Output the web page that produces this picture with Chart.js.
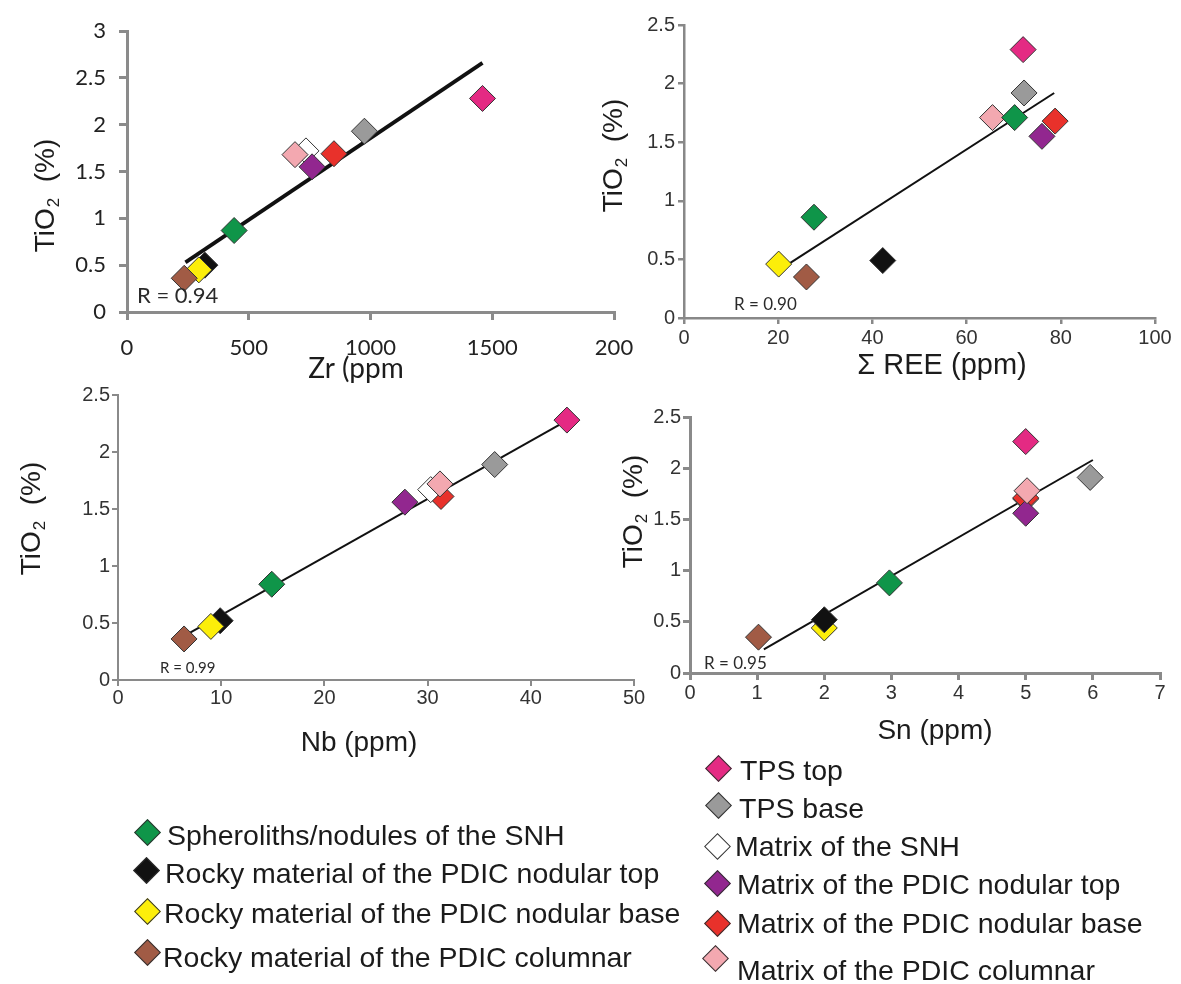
<!DOCTYPE html>
<html lang="en">
<head>
<meta charset="utf-8">
<title>TiO2 versus Zr, ΣREE, Nb and Sn</title>
<script src="https://cdn.jsdelivr.net/npm/chart.js@4.4.1/dist/chart.umd.min.js"></script>
<style>
  html, body { margin: 0; padding: 0; background: #fff; }
  #page { position: relative; width: 1181px; height: 984px; overflow: hidden; background: #fff; }
  #page canvas { position: absolute; left: 0; top: 0; }
  .key { position: absolute; white-space: nowrap; font-family: 'Liberation Sans', Arial, sans-serif;
         font-size: 28.5px; line-height: 32px; height: 32px; color: #1b1b1b; }
  .mark { position: absolute; width: 19px; height: 19px; box-sizing: border-box;
          border: 1px solid #333; transform: rotate(45deg); }
</style>
</head>
<body>
<div id="page">
  <canvas id="pZr" width="1181" height="984"></canvas>
  <canvas id="pRee" width="1181" height="984"></canvas>
  <canvas id="pNb" width="1181" height="984"></canvas>
  <canvas id="pSn" width="1181" height="984"></canvas>
</div>
<script>
// Sample groups (same order in every array below)
const groupNames = [
  'TPS top',
  'TPS base',
  'Matrix of the SNH',
  'Matrix of the PDIC nodular top',
  'Matrix of the PDIC nodular base',
  'Matrix of the PDIC columnar',
  'Spheroliths/nodules of the SNH',
  'Rocky material of the PDIC nodular top',
  'Rocky material of the PDIC nodular base',
  'Rocky material of the PDIC columnar'
];
const fillColors = ['#e42a83', '#9a9a9a', '#ffffff', '#92278f', '#e8312b',
                    '#f3a8b0', '#0f9549', '#111111', '#fcee0a', '#a15b45'];

// Zr (ppm) vs TiO2 (%)
const zrPpm     = [1460, 975, 735, 760, 850, 690, 440, 320, 295, 235];
const tiO2AtZr  = [2.28, 1.93, 1.72, 1.55, 1.69, 1.68, 0.87, 0.50, 0.45, 0.36];
const zrFitX    = [240, 1460];
const zrFitY    = [0.53, 2.66];

// ΣREE (ppm) vs TiO2 (%)
const reePpm    = [72.0, 72.2, 70.2, 76.0, 78.8, 65.5, 27.6, 42.2, 20.1, 26.0];
const tiO2AtRee = [2.29, 1.92, 1.71, 1.55, 1.68, 1.71, 0.86, 0.49, 0.46, 0.35];
const reeFitX   = [21.0, 78.6];
const reeFitY   = [0.43, 1.92];

// Nb (ppm) vs TiO2 (%)
const nbPpm     = [43.5, 36.5, 30.3, 27.8, 31.3, 31.2, 14.9, 9.9, 9.0, 6.4];
const tiO2AtNb  = [2.28, 1.89, 1.67, 1.56, 1.61, 1.72, 0.84, 0.52, 0.47, 0.36];
const nbFitX    = [6.3, 43.4];
const nbFitY    = [0.38, 2.27];

// Sn (ppm) vs TiO2 (%)
const snPpm     = [5.0, 5.96, 5.0, 5.0, 5.0, 5.02, 2.97, 2.0, 2.0, 1.02];
const tiO2AtSn  = [2.26, 1.91, 1.70, 1.56, 1.71, 1.78, 0.88, 0.52, 0.44, 0.35];
const snFitX    = [1.1, 6.0];
const snFitY    = [0.23, 2.08];

// Tick labels
const zrTickLabels  = ['0', '500', '1000', '1500', '200'];
const reeTickLabels = ['0', '20', '40', '60', '80', '100'];
const nbTickLabels  = ['0', '10', '20', '30', '40', '50'];
const snTickLabels  = ['0', '1', '2', '3', '4', '5', '6', '7'];
const tiO2Labels3   = ['0', '0.5', '1', '1.5', '2', '2.5', '3'];
const tiO2Labels25  = ['0', '0.5', '1', '1.5', '2', '2.5'];

// ---------------------------------------------------------------
const W = 1181, H = 984, Y_BOX = 60, X_BOX = 60;
const SANS = "'Liberation Sans', Arial, sans-serif";

// Axis titles (TiO2 with a subscript) and correlation notes
const panelText = {
  id: 'panelText',
  afterDraw(chart, _args, o) {
    const ctx = chart.ctx;
    const t = o.yTitle;
    ctx.save();
    ctx.fillStyle = '#1c1c1c';
    ctx.translate(t.x, t.y);
    ctx.rotate(-Math.PI / 2);
    const main = t.size + 'px ' + SANS;
    const sub = Math.round(t.size * 0.6) + 'px ' + SANS;
    ctx.font = main;
    const w1 = ctx.measureText(t.parts[0]).width;
    const w3 = ctx.measureText(t.parts[2]).width;
    ctx.font = sub;
    const w2 = ctx.measureText(t.parts[1]).width;
    const x0 = -(w1 + w2 + w3) / 2;
    const base = t.size * 0.36;
    ctx.textAlign = 'left';
    ctx.textBaseline = 'alphabetic';
    ctx.font = main; ctx.fillText(t.parts[0], x0, base);
    ctx.font = sub;  ctx.fillText(t.parts[1], x0 + w1 + 1, base + t.size * 0.18);
    ctx.font = main; ctx.fillText(t.parts[2], x0 + w1 + w2 + 1, base);
    ctx.restore();

    ctx.save();
    ctx.fillStyle = '#1c1c1c';
    ctx.textBaseline = 'middle';
    ctx.textAlign = 'center';
    ctx.font = o.xTitle.font;
    ctx.fillText(o.xTitle.text, o.xTitle.x, o.xTitle.y);
    ctx.textAlign = 'left';
    ctx.fillStyle = '#2a2a2a';
    ctx.font = o.note.font;
    ctx.fillText(o.note.text, o.note.x, o.note.y);
    ctx.restore();
  }
};

const tiParts = ['TiO', '2', '  (%)'];

const panels = [
  {
    canvas: 'pZr', xs: zrPpm, ys: tiO2AtZr, fitX: zrFitX, fitY: zrFitY,
    xMax: 2000, xStep: 500, xLabels: zrTickLabels, yMax: 3, yLabels: tiO2Labels3,
    area: { l: 127, r: 614, t: 31, b: 312 },
    stack: [2, 4, 3, 5, 1, 0, 7, 8, 9, 6],
    recolor: {},
    look: { font: { family: 'Lato', size: 22 }, tickColor: '#222', axisColor: '#8b8b8b',
            axisWidth: 3, tickLen: 8, xPad: 15, yPad: 13, fitWidth: 3.8, radius: 13 },
    text: {
      yTitle: { x: 44, y: 196, size: 28, parts: tiParts },
      xTitle: { text: 'Zr (ppm', x: 356, y: 369, font: '28px Lato' },
      note: { text: 'R = 0.94', x: 137, y: 296, font: '22px Lato' }
    }
  },
  {
    canvas: 'pRee', xs: reePpm, ys: tiO2AtRee, fitX: reeFitX, fitY: reeFitY,
    xMax: 100, xStep: 20, xLabels: reeTickLabels, yMax: 2.5, yLabels: tiO2Labels25,
    area: { l: 684, r: 1155, t: 25, b: 318 },
    stack: [5, 2, 4, 3, 1, 0, 7, 8, 9, 6],
    recolor: { 2: '#0f9549' },
    look: { font: { family: 'Liberation Sans', size: 20 }, tickColor: '#333', axisColor: '#888',
            axisWidth: 2.5, tickLen: 6, xPad: 2, yPad: 3, fitWidth: 2, radius: 13 },
    text: {
      yTitle: { x: 612, y: 156, size: 28, parts: tiParts },
      xTitle: { text: 'Σ REE (ppm)', x: 942, y: 366, font: '29px ' + SANS },
      note: { text: 'R = 0.90', x: 734, y: 305, font: '17px Lato' }
    }
  },
  {
    canvas: 'pNb', xs: nbPpm, ys: tiO2AtNb, fitX: nbFitX, fitY: nbFitY,
    xMax: 50, xStep: 10, xLabels: nbTickLabels, yMax: 2.5, yLabels: tiO2Labels25,
    area: { l: 118, r: 634, t: 395, b: 680 },
    stack: [4, 2, 5, 3, 1, 0, 7, 8, 9, 6],
    recolor: {},
    look: { font: { family: 'Liberation Sans', size: 20 }, tickColor: '#333', axisColor: '#8a8a8a',
            axisWidth: 2, tickLen: 6, xPad: 0, yPad: 2, fitWidth: 2, radius: 13 },
    text: {
      yTitle: { x: 30, y: 519, size: 28, parts: tiParts },
      xTitle: { text: 'Nb (ppm)', x: 359, y: 743, font: '28px ' + SANS },
      note: { text: 'R = 0.99', x: 160, y: 668, font: '15px Lato' }
    }
  },
  {
    canvas: 'pSn', xs: snPpm, ys: tiO2AtSn, fitX: snFitX, fitY: snFitY,
    xMax: 7, xStep: 1, xLabels: snTickLabels, yMax: 2.5, yLabels: tiO2Labels25,
    area: { l: 690, r: 1160, t: 417, b: 673 },
    stack: [2, 4, 3, 5, 1, 0, 8, 7, 9, 6],
    recolor: {},
    look: { font: { family: 'Liberation Sans', size: 20 }, tickColor: '#333', axisColor: '#8a8a8a',
            axisWidth: 3, tickLen: 7, xPad: 1, yPad: 2, fitWidth: 2, radius: 13 },
    text: {
      yTitle: { x: 632, y: 512, size: 28, parts: tiParts },
      xTitle: { text: 'Sn (ppm)', x: 935, y: 731, font: '28px ' + SANS },
      note: { text: 'R = 0.95', x: 704, y: 664, font: '17px Lato' }
    }
  }
];

function axisOptions(p, isX) {
  const lk = p.look;
  const labels = isX ? p.xLabels : p.yLabels;
  return {
    type: 'linear',
    position: isX ? 'bottom' : 'left',
    min: 0,
    max: isX ? p.xMax : p.yMax,
    afterFit: s => { if (isX) s.height = X_BOX; else s.width = Y_BOX; },
    ticks: {
      stepSize: isX ? p.xStep : 0.5,
      autoSkip: false,
      maxRotation: 0,
      padding: isX ? lk.xPad : lk.yPad,
      color: lk.tickColor,
      font: lk.font,
      callback: (v, i) => labels[i]
    },
    grid: {
      display: true, drawOnChartArea: false, drawTicks: true,
      tickLength: lk.tickLen, tickColor: lk.axisColor, tickWidth: lk.axisWidth,
      color: lk.axisColor, lineWidth: lk.axisWidth
    },
    border: { display: true, color: lk.axisColor, width: lk.axisWidth },
    title: { display: false }
  };
}

panels.forEach(p => {
  const a = p.area;
  const datasets = p.stack.map((g, k) => ({
    label: groupNames[g],
    data: [{ x: p.xs[g], y: p.ys[g] }],
    showLine: false,
    pointStyle: 'rectRot',
    pointRadius: p.look.radius,
    pointBorderWidth: 1,
    pointBorderColor: '#333',
    pointBackgroundColor: p.recolor[g] || fillColors[g],
    order: p.stack.length - k
  }));
  datasets.push({
    label: 'trend',
    data: p.fitX.map((x, i) => ({ x, y: p.fitY[i] })),
    showLine: true,
    borderColor: '#111',
    borderWidth: p.look.fitWidth,
    pointRadius: 0,
    fill: false,
    order: 99
  });

  new Chart(document.getElementById(p.canvas), {
    type: 'scatter',
    data: { datasets },
    options: {
      responsive: false,
      animation: false,
      devicePixelRatio: 1,
      layout: { padding: { left: a.l - Y_BOX, right: W - a.r, top: a.t, bottom: H - a.b - X_BOX } },
      scales: { x: axisOptions(p, true), y: axisOptions(p, false) },
      plugins: {
        legend: { display: false },
        tooltip: { enabled: false },
        panelText: p.text
      }
    },
    plugins: [panelText]
  });
});

// Group key, in two columns under the plots
const keyColumns = [
  { groups: [6, 7, 8, 9],
    marks: [[147, 832], [146, 870], [147, 911], [147, 952]],
    texts: [[167, 835], [165, 873], [164, 913], [163, 957]] },
  { groups: [0, 1, 2, 3, 4, 5],
    marks: [[718, 768], [718, 805], [717, 846], [717, 883], [717, 923], [715, 958]],
    texts: [[740, 770], [739, 808], [735, 846], [737, 884], [737, 923], [737, 970]] }
];
const page = document.getElementById('page');
keyColumns.forEach(col => {
  col.groups.forEach((g, i) => {
    const m = document.createElement('div');
    m.className = 'mark';
    m.style.left = (col.marks[i][0] - 9.5) + 'px';
    m.style.top = (col.marks[i][1] - 9.5) + 'px';
    m.style.background = fillColors[g];
    page.appendChild(m);
    const t = document.createElement('div');
    t.className = 'key';
    t.style.left = col.texts[i][0] + 'px';
    t.style.top = (col.texts[i][1] - 16) + 'px';
    t.textContent = groupNames[g];
    page.appendChild(t);
  });
});
</script>
</body>
</html>
